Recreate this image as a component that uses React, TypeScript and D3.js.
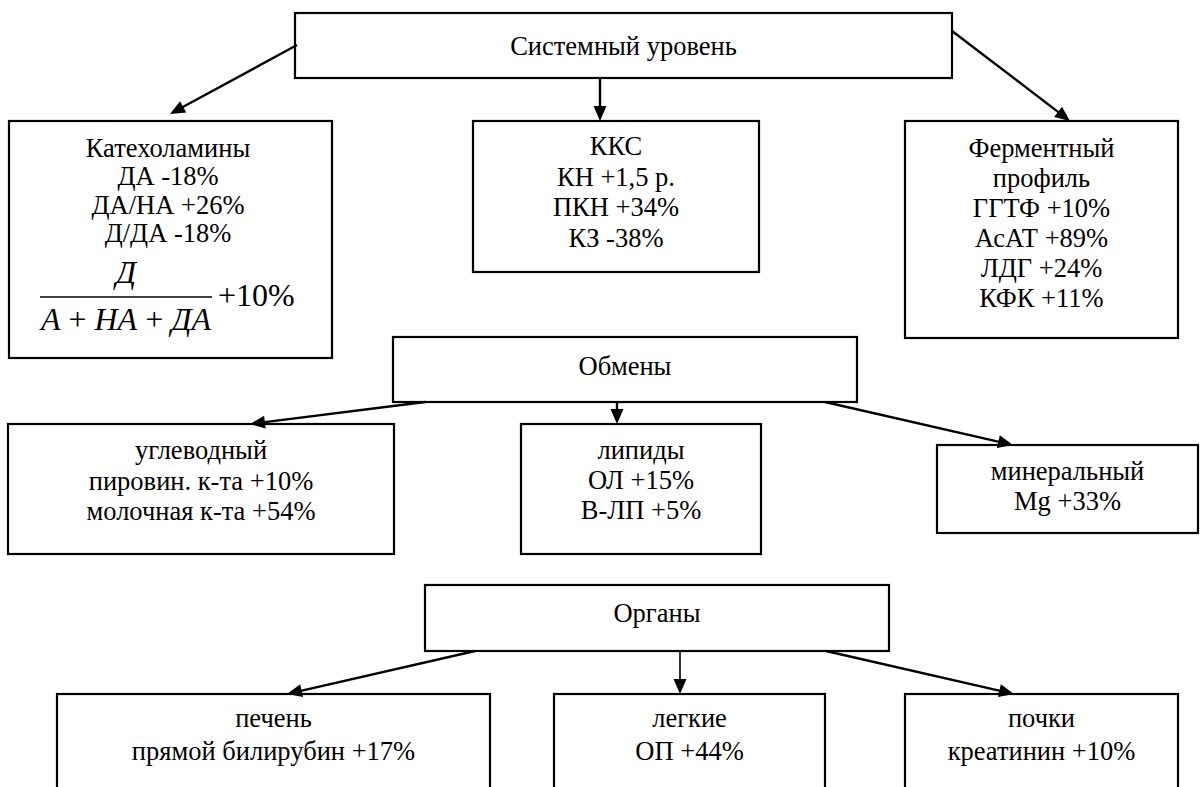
import React from "react";
import * as d3 from "d3";

// ---- data (texts) ----
const systemLabel = ["Системный уровень"];
const catecholLines = ["Катехоламины", "ДА -18%", "ДА/НА +26%", "Д/ДА -18%"];
const fractionNum = "Д";
const fractionValue = "+10%";
const kksLines = ["ККС", "КН +1,5 р.", "ПКН +34%", "КЗ -38%"];
const enzymeLines = ["Ферментный", "профиль", "ГГТФ +10%", "АсАТ +89%", "ЛДГ +24%", "КФК +11%"];
const metabolismLabel = ["Обмены"];
const carbLines = ["углеводный", "пировин. к-та +10%", "молочная к-та +54%"];
const lipidLines = ["липиды", "ОЛ +15%", "В-ЛП +5%"];
const mineralLines = ["минеральный", "Mg +33%"];
const organsLabel = ["Органы"];
const liverLines = ["печень", "прямой билирубин +17%"];
const lungLines = ["легкие", "ОП +44%"];
const kidneyLines = ["почки", "креатинин +10%"];

// ---- layout (separate from data) ----
type Box = { id: string; x0: number; y0: number; x1: number; y1: number; lines: string[]; cx?: number; y: number; dy: number };
const boxes: Box[] = [
  { id: "sys", x0: 295, y0: 13, x1: 952, y1: 78, lines: systemLabel, y: 55, dy: 30 },
  { id: "cat", x0: 9, y0: 121, x1: 332, y1: 358, lines: catecholLines, cx: 168, y: 157, dy: 28.3 },
  { id: "kks", x0: 473, y0: 121, x1: 759, y1: 272, lines: kksLines, y: 155, dy: 30.7 },
  { id: "enz", x0: 905, y0: 121, x1: 1178, y1: 338, lines: enzymeLines, y: 157, dy: 30 },
  { id: "met", x0: 393, y0: 337, x1: 857, y1: 402, lines: metabolismLabel, y: 375, dy: 30 },
  { id: "carb", x0: 8, y0: 424, x1: 394, y1: 554, lines: carbLines, y: 459, dy: 30.5 },
  { id: "lip", x0: 521, y0: 424, x1: 761, y1: 554, lines: lipidLines, y: 459, dy: 30 },
  { id: "min", x0: 937, y0: 445, x1: 1198, y1: 533, lines: mineralLines, y: 480, dy: 30 },
  { id: "org", x0: 425, y0: 585, x1: 889, y1: 651, lines: organsLabel, y: 622, dy: 30 },
  { id: "liv", x0: 57, y0: 694, x1: 490, y1: 800, lines: liverLines, y: 727, dy: 33 },
  { id: "lung", x0: 554, y0: 694, x1: 825, y1: 800, lines: lungLines, y: 727, dy: 33 },
  { id: "kid", x0: 905, y0: 694, x1: 1178, y1: 800, lines: kidneyLines, y: 727, dy: 33 },
];

const arrows: [number, number, number, number, number][] = [
  [297, 45, 170, 114, 2.4],
  [600, 78, 600, 121, 2.4],
  [952, 31, 1070, 121, 2.4],
  [425, 402, 250, 424, 2.4],
  [617, 402, 617, 424, 2.4],
  [825, 402, 1013, 445, 2.4],
  [475, 651, 287, 694, 2.4],
  [680, 651, 680, 694, 1.6],
  [826, 651, 1014, 694, 2.4],
];

const FONT = '"Liberation Serif", Tinos, "Times New Roman", "DejaVu Serif", serif';

function Arrow({ a }: { a: [number, number, number, number, number] }) {
  const [x0, y0, x1, y1, w] = a;
  const ang = Math.atan2(y1 - y0, x1 - x0);
  const len = 15, hw = 6.5;
  const bx = x1 - len * Math.cos(ang), by = y1 - len * Math.sin(ang);
  const px = -Math.sin(ang) * hw, py = Math.cos(ang) * hw;
  const line = d3.line()([[x0, y0], [bx + 2 * Math.cos(ang), by + 2 * Math.sin(ang)]]) || "";
  const head = d3.line()([[x1, y1], [bx + px, by + py], [bx - px, by - py]]) + "Z";
  return (
    <g>
      <path d={line} stroke="#000" strokeWidth={w} fill="none" />
      <path d={head} fill="#000" />
    </g>
  );
}

export default function App() {
  const txt = { fontFamily: FONT, fontSize: 26.5 } as React.CSSProperties;
  return (
    <svg width={1201} height={787} style={{ position: "fixed", left: 0, top: 0, background: "#fff" }}>
      <rect x={0} y={0} width={1201} height={787} fill="#fff" />
      {boxes.map((b) => {
        const cx = b.cx ?? (b.x0 + b.x1) / 2;
        return (
          <g key={b.id}>
            <rect x={b.x0} y={b.y0} width={b.x1 - b.x0} height={b.y1 - b.y0} fill="#fff" stroke="#000" strokeWidth={2.2} />
            {b.lines.map((t, i) => (
              <text key={i} x={cx} y={b.y + i * b.dy} textAnchor="middle" fill="#000" style={txt}>{t}</text>
            ))}
          </g>
        );
      })}
      {/* fraction in catecholamine box */}
      <text x={126} y={283} textAnchor="middle" style={{ ...txt, fontSize: 32, fontStyle: "italic" }}>{fractionNum}</text>
      <line x1={40} x2={212} y1={297} y2={297} stroke="#000" strokeWidth={1.5} />
      <text x={126} y={330} textAnchor="middle" style={{ ...txt, fontSize: 32, whiteSpace: "pre" }}>
        <tspan style={{ fontStyle: "italic" }}>А</tspan>
        <tspan> + </tspan>
        <tspan style={{ fontStyle: "italic" }}>НА</tspan>
        <tspan> + </tspan>
        <tspan style={{ fontStyle: "italic" }}>ДА</tspan>
      </text>
      <text x={218} y={306} style={{ ...txt, fontSize: 32 }}>{fractionValue}</text>
      {arrows.map((a, i) => <Arrow key={i} a={a} />)}
    </svg>
  );
}
